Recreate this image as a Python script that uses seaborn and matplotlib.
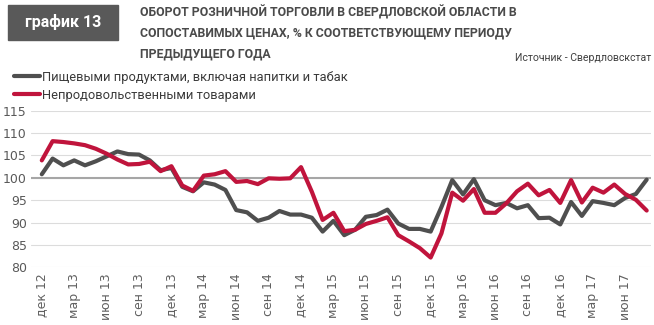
import numpy as np
import pandas as pd
import seaborn as sns
import matplotlib
matplotlib.use("Agg")
import matplotlib.pyplot as plt
from matplotlib.patches import Rectangle

# ---- data ----
tick_labels = ['дек 12', 'мар 13', 'июн 13', 'сен 13', 'дек 13', 'мар 14', 'июн 14',
               'сен 14', 'дек 14', 'мар 15', 'июн 15', 'сен 15', 'дек 15', 'мар 16',
               'июн 16', 'сен 16', 'дек 16', 'мар 17', 'июн 17']
month_index = list(range(57))  # monthly, дек 12 .. авг 17

food = [100.8, 104.3, 102.8, 103.9, 102.8, 103.7, 104.8, 105.9, 105.3, 105.2,
        103.9, 101.7, 102.2, 98.0, 97.0, 99.0, 98.5, 97.3, 92.8, 92.3,
        90.4, 91.1, 92.6, 91.8, 91.8, 91.1, 88.0, 90.4, 87.2, 88.4,
        91.3, 91.7, 92.9, 89.8, 88.6, 88.6, 88.0, 93.5, 99.5, 96.3,
        99.7, 95.0, 93.9, 94.4, 93.2, 93.9, 91.0, 91.1, 89.6, 94.6,
        91.5, 94.8, 94.4, 93.9, 95.5, 96.4, 99.6]
nonfood = [103.9, 108.2, 108.0, 107.7, 107.3, 106.5, 105.4, 104.1, 103.0, 103.1,
           103.6, 101.5, 102.6, 98.3, 97.1, 100.5, 100.8, 101.5, 99.1, 99.3,
           98.6, 99.9, 99.8, 99.9, 102.4, 96.9, 90.6, 92.2, 88.1, 88.4,
           89.7, 90.4, 91.2, 87.2, 85.8, 84.3, 82.2, 87.6, 96.7, 94.9,
           97.5, 92.2, 92.2, 94.3, 97.0, 98.7, 96.1, 97.3, 94.4, 99.5,
           94.5, 97.8, 96.7, 98.5, 96.4, 95.1, 92.7]
series_names = ['Пищевыми продуктами, включая напитки и табак',
                'Непродовольственными товарами']
colors = ['#4f4f4f', '#c0143c']

title_lines = ['ОБОРОТ РОЗНИЧНОЙ ТОРГОВЛИ В СВЕРДЛОВСКОЙ ОБЛАСТИ В',
               'СОПОСТАВИМЫХ ЦЕНАХ, % К СООТВЕТСТВУЮЩЕМУ ПЕРИОДУ',
               'ПРЕДЫДУЩЕГО ГОДА']
badge = 'график 13'
source = 'Источник - Свердловскстат'

df = pd.DataFrame({
    'month': month_index * 2,
    'value': food + nonfood,
    'series': [series_names[0]] * len(food) + [series_names[1]] * len(nonfood),
})

# ---- style ----
sns.set_theme(style='white')
main_font = ['Roboto', 'DejaVu Sans']
plt.rcParams['font.family'] = main_font

W, H = 654, 325
fig = plt.figure(figsize=(W / 100, H / 100), dpi=100)
ax = fig.add_axes([31 / W, (H - 267.4) / H, 620 / W, (267.4 - 110.7) / H])

sns.lineplot(data=df, x='month', y='value', hue='series', palette=colors,
             linewidth=3.0, ax=ax, sort=False, legend=True)

ax.set_xlim(-1, 56.4)
ax.set_ylim(80, 115)
ax.set_yticks(np.arange(80, 116, 5))
ax.set_xticks(month_index[::3])
ax.set_xticklabels(tick_labels, rotation=90, fontsize=9.0, color='#606060',
                   family=['DejaVu Sans'])
for t in ax.get_yticklabels():
    t.set_family(['DejaVu Sans'])
ax.tick_params(axis='y', labelsize=9.0, labelcolor='#595959', length=0, pad=3)
ax.tick_params(axis='x', length=0, pad=4)
ax.set_xlabel('')
ax.set_ylabel('')
for s in ax.spines.values():
    s.set_visible(False)
ax.grid(axis='y', color='#dcdcdc', linewidth=0.8)
ax.grid(axis='x', visible=False)
ax.axhline(100, color='#a6a6a6', linewidth=1.5, zorder=1.5)
ax.set_axisbelow(True)

handles, labels = ax.get_legend_handles_labels()
ax.legend_.remove()
fig.legend(handles, labels, loc='upper left', bbox_to_anchor=(14 / W, 1 - 71 / H),
           frameon=False, handlelength=2.0, handletextpad=0.2,
           labelspacing=0.35, borderpad=0, borderaxespad=0,
           prop={'family': main_font, 'size': 9.3}, labelcolor='#3a3a3a')

# badge
fig.patches.append(Rectangle((8 / W, 1 - 40 / H), 110 / W, 35 / H,
                             transform=fig.transFigure, color='#595959', zorder=0))
fig.text(63 / W, 1 - 22.5 / H, badge, ha='center', va='center', color='white',
         fontsize=11.5, fontweight='bold', family=main_font)

# title
for i, line in enumerate(title_lines):
    fig.text(140 / W, 1 - (12.5 + 20.5 * i) / H, line, ha='left', va='center',
             color='#4a4a4a', fontsize=8.8, fontweight='bold', family=main_font)
fig.text(651 / W, 1 - 58 / H, source, ha='right', va='center', color='#404040',
         fontsize=7.6, family=main_font)

fig.savefig('out.png', dpi=100)
